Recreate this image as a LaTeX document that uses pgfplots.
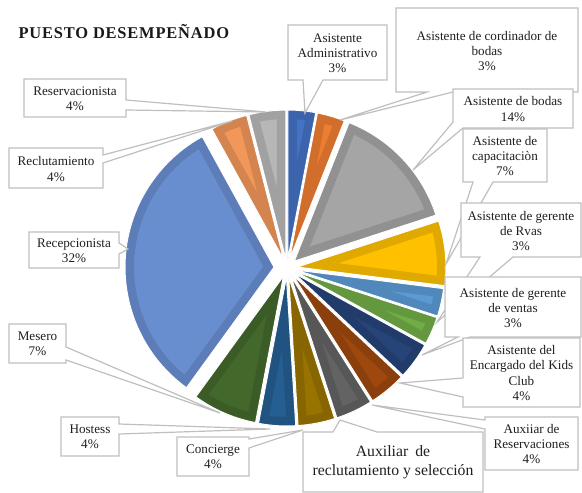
\documentclass[border=0pt]{standalone}
\usepackage{pgfplots}
\pgfplotsset{compat=1.18}
\usepackage{pgfplotstable}
\usepackage{fontspec}
\setmainfont{Liberation Serif}

\definecolor{s1}{HTML}{4472C4}
\definecolor{s2}{HTML}{ED7D31}
\definecolor{s3}{HTML}{A5A5A5}
\definecolor{s4}{HTML}{FFC000}
\definecolor{s5}{HTML}{5B9BD5}
\definecolor{s6}{HTML}{70AD47}
\definecolor{s7}{HTML}{264478}
\definecolor{s8}{HTML}{9E480E}
\definecolor{s9}{HTML}{636363}
\definecolor{s10}{HTML}{997300}
\definecolor{s11}{HTML}{255E91}
\definecolor{s12}{HTML}{43682B}
\definecolor{s13}{HTML}{698ED0}
\definecolor{s14}{HTML}{F1975A}
\definecolor{s15}{HTML}{B7B7B7}

% Puesto desempenado: percentage of each category (clockwise from 12 o'clock)
\pgfplotstableread{
idx value explode
1  3  9
2  3  9
3  14 10
4  7  10
5  3  9
6  3  9
7  4  9
8  4  9
9  4  9
10 4  9
11 4  9
12 7  9
13 32 13
14 4  9
15 4  9
}\piedata

\newcommand{\callout}[4][\fontsize{13.2}{15.3}\selectfont]{%
  \draw[fill=white, draw=black!25, line width=1.2bp, line join=miter] #2 -- cycle;
  \node[align=center, text=black!88, font=#1, inner sep=0pt] at #3 {#4};
}

\begin{document}
\begin{tikzpicture}
\begin{axis}[width=582bp, height=493bp, scale only axis,
  xmin=0, xmax=582, ymin=0, ymax=493, y dir=reverse,
  hide axis, clip=false]
\addplot[draw=none, forget plot] coordinates {(0,0) (582,493)};
\pgfplotsextra{
  \gdef\cum{0}
  \foreach \i in {0,...,14}{
    \pgfplotstablegetelem{\i}{value}\of\piedata
    \pgfmathsetmacro\val{\pgfplotsretval}
    \pgfplotstablegetelem{\i}{explode}\of\piedata
    \pgfmathsetmacro\expl{\pgfplotsretval}
    \pgfmathsetmacro\aS{90-3.6*\cum}
    \pgfmathsetmacro\aE{90-3.6*(\cum+\val)}
    \pgfmathsetmacro\aM{(\aS+\aE)/2}
    \pgfmathtruncatemacro\kk{\i+1}
    \coordinate (apex) at ([shift={(\aM:\expl bp)}]287,268);
    \begin{scope}
      \clip (apex) -- ++(\aS:149bp) arc[start angle=\aS,end angle=\aE,radius=149bp] -- cycle;
      \fill[fill=s\kk] (apex) -- ++(\aS:149bp) arc[start angle=\aS,end angle=\aE,radius=149bp] -- cycle;
      \draw[draw=s\kk!88!black, line width=18bp, line join=round] (apex) -- ++(\aS:149bp) arc[start angle=\aS,end angle=\aE,radius=149bp] -- cycle;
    \end{scope}
    \draw[white, line width=1bp, line join=round] (apex) -- ++(\aS:149bp) arc[start angle=\aS,end angle=\aE,radius=149bp] -- cycle;
    \pgfmathsetmacro\nc{\cum+\val}
    \xdef\cum{\nc}
  }
}

\node[anchor=base west, text=black!90, font=\fontsize{16.5}{19}\selectfont\bfseries\addfontfeature{LetterSpace=5}] at (15,39) {PUESTO DESEMPEÑADO};

\callout{(288,25) -- (387,25) -- (387,80) -- (323,80) -- (305,113) -- (303,80) -- (288,80)}{(337.5,53)}{Asistente\\Administrativo\\3\%}
\callout{(396,8) -- (578,8) -- (578,92) -- (453,92) -- (340,120) -- (427,92) -- (396,92)}{(487,51)}{Asistente de cordinador de\\bodas\\3\%}
\callout{(453,89) -- (573,89) -- (573,128) -- (463,128) -- (413,170) -- (453,122)}{(513,109)}{Asistente de bodas\\14\%}
\callout{(463,129) -- (547,129) -- (547,182) -- (493,182) -- (446,264) -- (473,182) -- (463,182)}{(505,156)}{Asistente de\\capacitaciòn\\7\%}
\callout{(461,203) -- (581,203) -- (581,257) -- (513,257) -- (437,322) -- (480,257) -- (461,257)}{(521,231)}{Asistente de gerente\\de Rvas\\3\%}
\callout{(445,277) -- (581,277) -- (581,337) -- (470,337) -- (422,355) -- (458,337) -- (445,337)}{(513,308)}{Asistente de gerente\\de ventas\\3\%}
\callout{(463,338) -- (580,338) -- (580,407) -- (463,407) -- (463,397) -- (400,383) -- (463,378)}{(521.5,373)}{Asistente del\\Encargado del Kids\\Club\\4\%}
\callout{(485,417) -- (578,417) -- (578,470) -- (485,470) -- (485,429) -- (372,405) -- (485,420)}{(531.5,444)}{Auxiiar de\\Reservaciones\\4\%}
\callout[\fontsize{15.8}{19}\selectfont]{(303,432) -- (333,432) -- (340,420) -- (377,432) -- (483,432) -- (483,492) -- (303,492)}{(393,462)}{Auxiliar\hspace{7bp}de\\reclutamiento y selección}
\callout{(177,437) -- (249,437) -- (249,439) -- (303,430) -- (249,448) -- (249,476) -- (177,476)}{(213,457)}{Concierge\\4\%}
\callout{(61,417) -- (119,417) -- (119,424) -- (270,429) -- (119,434) -- (119,456) -- (61,456)}{(90,437)}{Hostess\\4\%}
\callout{(9,324) -- (66,324) -- (66,347) -- (220,413) -- (66,360) -- (66,363) -- (9,363)}{(37.5,344)}{Mesero\\7\%}
\callout{(29,232) -- (119,232) -- (119,243) -- (128,249) -- (119,254) -- (119,268) -- (29,268)}{(74,251)}{Recepcionista\\32\%}
\callout{(9,148) -- (103,148) -- (103,155) -- (232,121) -- (103,163) -- (103,188) -- (9,188)}{(56,169)}{Reclutamiento\\4\%}
\callout{(24,79) -- (126,79) -- (126,100) -- (266,112) -- (126,110) -- (126,117) -- (24,117)}{(75,99)}{Reservacionista\\4\%}
\end{axis}
\end{tikzpicture}
\end{document}
